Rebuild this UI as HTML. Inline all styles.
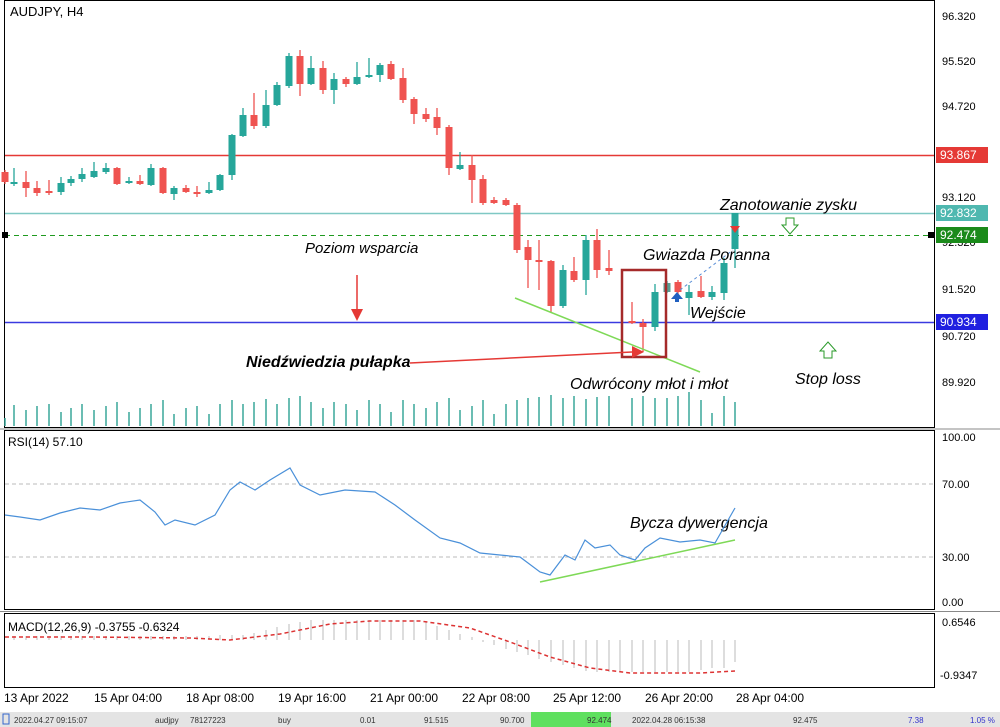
<!DOCTYPE html>
<html><head><meta charset="utf-8"><style>
body{margin:0;background:#fff;width:1000px;height:727px;overflow:hidden}
svg{display:block;font-family:"Liberation Sans",sans-serif}
</style></head><body>
<svg width="1000" height="727" viewBox="0 0 1000 727" xmlns="http://www.w3.org/2000/svg">
<rect width="1000" height="727" fill="#fff"/>
<rect x="4.5" y="0.5" width="930" height="427" fill="none" stroke="#000"/>
<rect x="4.5" y="430.5" width="930" height="179" fill="none" stroke="#000"/>
<rect x="4.5" y="613.5" width="930" height="74" fill="none" stroke="#000"/>
<line x1="0" y1="429" x2="1000" y2="429" stroke="#888"/>
<line x1="0" y1="611.5" x2="1000" y2="611.5" stroke="#888"/>
<text x="10" y="16" font-size="13">AUDJPY, H4</text>
<line x1="5" y1="155.5" x2="934" y2="155.5" stroke="#e53935" stroke-width="1.5"/>
<line x1="5" y1="213.5" x2="934" y2="213.5" stroke="#7fc8c4" stroke-width="1.5"/>
<line x1="5" y1="235.5" x2="934" y2="235.5" stroke="#1f9a1f" stroke-dasharray="5,4"/>
<line x1="5" y1="322.5" x2="934" y2="322.5" stroke="#3a3ae0" stroke-width="1.5"/>
<rect x="2" y="232" width="6" height="6" fill="#000"/><rect x="928" y="232" width="6" height="6" fill="#000"/>
<!-- volumes -->
<path stroke="#3aa79a" stroke-width="1.5" fill="none" d="M5 426V418M14 426V405M26 426V410M37 426V406M49 426V404M61 426V412M71 426V408M82 426V404M94 426V410M106 426V406M117 426V402M129 426V412M140 426V408M151 426V404M163 426V400M174 426V414M186 426V408M197 426V406M209 426V414M220 426V404M232 426V400M243 426V404M254 426V402M266 426V399M277 426V404M289 426V398M300 426V396M311 426V402M323 426V408M334 426V402M346 426V404M357 426V410M369 426V400M380 426V404M391 426V412M403 426V400M414 426V404M426 426V408M437 426V402M449 426V398M460 426V410M472 426V406M483 426V400M494 426V414M506 426V404M517 426V400M528 426V398M539 426V397M551 426V395M563 426V398M574 426V396M586 426V399M597 426V397M609 426V396M632 426V398M643 426V396M655 426V398M667 426V398M678 426V396M689 426V392M701 426V400M712 426V413M724 426V396M735 426V402"/>
<!-- green candles -->
<g fill="#26a69a" stroke="none">
<path stroke="#26a69a" stroke-width="1.3" d="M14 168V186M61 177V195M71 176V186M82 168V182M94 162V178M106 163V174M129 177V184M151 164V186M174 186V200M209 182V194M220 174V191M232 134V180M243 108V137M266 90V128M277 82V106M289 53V88M311 56V85M334 73V104M357 62V85M369 58V78M380 63V82M460 152V170M563 265V308M586 235V295M655 284V331M667 281V293M689 285V315M712 286V300M724 258V300M735 213V268"/>
<rect x="10.5" y="182" width="7" height="2"/><rect x="57.5" y="183" width="7" height="9"/><rect x="67.5" y="179" width="7" height="4"/><rect x="78.5" y="174" width="7" height="5"/><rect x="90.5" y="171" width="7" height="6"/><rect x="102.5" y="168" width="7" height="4"/><rect x="125.5" y="181" width="7" height="2"/><rect x="147.5" y="168" width="7" height="17"/><rect x="170.5" y="188" width="7" height="6"/><rect x="205.5" y="190" width="7" height="3"/><rect x="216.5" y="175" width="7" height="15"/><rect x="228.5" y="135" width="7" height="40"/><rect x="239.5" y="115" width="7" height="21"/><rect x="262.5" y="105" width="7" height="21"/><rect x="273.5" y="85" width="7" height="20"/><rect x="285.5" y="56" width="7" height="30"/><rect x="307.5" y="68" width="7" height="16"/><rect x="330.5" y="79" width="7" height="11"/><rect x="353.5" y="77" width="7" height="7"/><rect x="365.5" y="75" width="7" height="2"/><rect x="376.5" y="65" width="7" height="10"/><rect x="456.5" y="165" width="7" height="4"/><rect x="559.5" y="270" width="7" height="36"/><rect x="582.5" y="240" width="7" height="40"/><rect x="651.5" y="292" width="7" height="35"/><rect x="663.5" y="283" width="7" height="9" fill="#5a9a8f"/><rect x="685.5" y="292" width="7" height="6"/><rect x="708.5" y="292" width="7" height="5"/><rect x="720.5" y="263" width="7" height="30"/><rect x="731.5" y="213" width="7" height="36"/>
</g>
<!-- red candles -->
<g fill="#ef5350">
<path stroke="#ef5350" stroke-width="1.3" d="M5 170V184M26 171V197M37 181V196M49 180V195M117 167V185M140 175V185M163 167V194M186 185V193M197 186V197M254 93V129M300 50V96M323 61V94M346 77V87M391 61V80M403 68V103M414 97V124M426 108V122M437 108V135M449 125V175M472 155V203M483 175V205M494 197V204M506 198V206M517 203V253M528 240V288M539 240V290M551 260V312M574 257V282M597 229V278M609 250V275M632 302V324M643 319V352M678 280V294M701 276V298"/>
<rect x="1.5" y="172" width="7" height="10"/><rect x="22.5" y="182" width="7" height="6"/><rect x="33.5" y="188" width="7" height="5"/><rect x="45.5" y="191" width="7" height="2"/><rect x="113.5" y="168" width="7" height="16"/><rect x="136.5" y="181" width="7" height="3"/><rect x="159.5" y="168" width="7" height="25"/><rect x="182.5" y="188" width="7" height="4"/><rect x="193.5" y="192" width="7" height="2"/><rect x="250.5" y="115" width="7" height="11"/><rect x="296.5" y="56" width="7" height="28"/><rect x="319.5" y="68" width="7" height="22"/><rect x="342.5" y="79" width="7" height="5"/><rect x="387.5" y="64" width="7" height="15"/><rect x="399.5" y="78" width="7" height="22"/><rect x="410.5" y="99" width="7" height="15"/><rect x="422.5" y="114" width="7" height="5"/><rect x="433.5" y="117" width="7" height="11"/><rect x="445.5" y="127" width="7" height="41"/><rect x="468.5" y="165" width="7" height="15"/><rect x="479.5" y="179" width="7" height="24"/><rect x="490.5" y="200" width="7" height="3"/><rect x="502.5" y="200" width="7" height="5"/><rect x="513.5" y="205" width="7" height="45"/><rect x="524.5" y="247" width="7" height="13"/><rect x="535.5" y="260" width="7" height="2"/><rect x="547.5" y="261" width="7" height="45"/><rect x="570.5" y="271" width="7" height="9"/><rect x="593.5" y="240" width="7" height="30"/><rect x="605.5" y="268" width="7" height="3"/><rect x="628.5" y="321" width="7" height="2"/><rect x="639.5" y="323" width="7" height="4"/><rect x="674.5" y="282" width="7" height="10"/><rect x="697.5" y="291" width="7" height="6"/>
</g>
<!-- annotations -->
<line x1="515" y1="298" x2="700" y2="372" stroke="#7ed957" stroke-width="1.5"/>
<rect x="622" y="270" width="44" height="87" fill="none" stroke="#a52a2a" stroke-width="2.5"/>
<line x1="410" y1="363" x2="632" y2="352" stroke="#e53935" stroke-width="1.5"/>
<polygon points="632,346 644,352 632,358" fill="#e53935"/>
<line x1="357" y1="275" x2="357" y2="310" stroke="#e53935" stroke-width="1.5"/>
<polygon points="351,309 363,309 357,321" fill="#e53935"/>
<line x1="680" y1="290" x2="733" y2="250" stroke="#5b8fd6" stroke-dasharray="3,3"/>
<polygon points="677,292 683,299 671,299" fill="#2060c0"/><rect x="675" y="298" width="4" height="4" fill="#2060c0"/>
<polygon points="730,226 740,226 735,233" fill="#e53935"/>
<polygon points="786,218 794,218 794,225 798,225 790,234 782,225 786,225" fill="none" stroke="#2a9a2a"/>
<polygon points="824,358 832,358 832,351 836,351 828,342 820,351 824,351" fill="none" stroke="#2a9a2a"/>
<g font-style="italic" font-size="16" fill="#000">
<text x="305" y="253" font-size="15">Poziom wsparcia</text>
<text x="720" y="210">Zanotowanie zysku</text>
<text x="643" y="260">Gwiazda Poranna</text>
<text x="690" y="318">Wejście</text>
<text x="246" y="367" font-weight="bold">Niedźwiedzia pułapka</text>
<text x="570" y="389">Odwrócony młot i młot</text>
<text x="795" y="384">Stop loss</text>
<text x="630" y="528">Bycza dywergencja</text>
</g>
<g font-size="11" fill="#000">
<text x="942" y="20">96.320</text><text x="942" y="65">95.520</text><text x="942" y="110">94.720</text>
<text x="942" y="201">93.120</text><text x="942" y="246">92.320</text><text x="942" y="293">91.520</text>
<text x="942" y="340">90.720</text><text x="942" y="386">89.920</text>
</g>
<rect x="936" y="147" width="52" height="16" fill="#e53935"/><text x="940" y="159" font-size="12" fill="#fff">93.867</text>
<rect x="936" y="205" width="52" height="16" fill="#4fb8b0"/><text x="940" y="217" font-size="12" fill="#fff">92.832</text>
<rect x="936" y="227" width="52" height="16" fill="#1a8a1a"/><text x="940" y="239" font-size="12" fill="#fff">92.474</text>
<rect x="936" y="314" width="52" height="16" fill="#2020e0"/><text x="940" y="326" font-size="12" fill="#fff">90.934</text>
<!-- RSI -->
<text x="8" y="446" font-size="12">RSI(14) 57.10</text>
<line x1="5" y1="484" x2="934" y2="484" stroke="#bbb" stroke-dasharray="4,3"/>
<line x1="5" y1="557" x2="934" y2="557" stroke="#bbb" stroke-dasharray="4,3"/>
<polyline fill="none" stroke="#4a90d9" stroke-width="1.2" points="5,515 20,517 40,520 60,513 80,508 100,510 120,503 140,500 155,512 165,525 175,520 195,525 215,515 230,490 240,482 255,490 270,480 290,468 300,485 320,495 345,490 375,492 395,505 415,520 440,538 460,543 480,553 500,555 520,557 540,572 550,575 565,555 575,560 585,540 595,548 610,545 620,555 635,560 645,548 660,538 680,542 700,540 715,543 735,508"/>
<line x1="540" y1="582" x2="735" y2="540" stroke="#7ed957" stroke-width="1.5"/>
<g font-size="11"><text x="942" y="441">100.00</text><text x="942" y="488">70.00</text><text x="942" y="561">30.00</text><text x="942" y="606">0.00</text></g>
<!-- MACD histogram -->
<path stroke="#bbb" fill="none" d="M14 640V636M26 640V636M37 640V636M49 640V636M61 640V636M71 640V636M82 640V636M94 640V636M106 640V636M117 640V636M129 640V636M140 640V636M151 640V636M163 640V636M174 640V636M186 640V636M197 640V636M209 640V636M220 640V635M232 640V635M243 640V635M254 640V633M266 640V630M277 640V627M289 640V624M300 640V622M311 640V620M323 640V620M334 640V620M346 640V620M357 640V620M369 640V620M380 640V620M391 640V620M403 640V620M414 640V620M426 640V622M437 640V626M449 640V630M460 640V634M472 640V637M483 640V642M494 640V645M506 640V649M517 640V652M528 640V655M539 640V659M551 640V662M563 640V665M574 640V668M586 640V671M597 640V672M609 640V672M620 640V672M632 640V672M643 640V672M655 640V672M667 640V672M678 640V672M689 640V672M701 640V670M712 640V668M724 640V668M735 640V662"/>
<polyline fill="none" stroke="#d33" stroke-width="1.5" stroke-dasharray="4,3" points="5,637 90,637 190,638 230,640 280,634 330,624 370,621 420,621 470,628 510,642 550,657 590,668 630,673 700,673 735,671"/>
<text x="8" y="631" font-size="12">MACD(12,26,9) -0.3755 -0.6324</text>
<g font-size="11"><text x="942" y="626">0.6546</text><text x="940" y="679">-0.9347</text></g>
<g font-size="12" fill="#000">
<text x="4" y="702">13 Apr 2022</text><text x="94" y="702">15 Apr 04:00</text><text x="186" y="702">18 Apr 08:00</text>
<text x="278" y="702">19 Apr 16:00</text><text x="370" y="702">21 Apr 00:00</text><text x="462" y="702">22 Apr 08:00</text>
<text x="553" y="702">25 Apr 12:00</text><text x="645" y="702">26 Apr 20:00</text><text x="736" y="702">28 Apr 04:00</text>
</g>
<rect x="0" y="712" width="1000" height="15" fill="#e4e4e4"/>
<rect x="531" y="712" width="80" height="15" fill="#5fe05f"/>
<g font-size="8" fill="#333">
<text x="14" y="723">2022.04.27 09:15:07</text><text x="155" y="723">audjpy</text><text x="190" y="723">78127223</text>
<text x="278" y="723">buy</text><text x="360" y="723">0.01</text><text x="424" y="723">91.515</text>
<text x="500" y="723">90.700</text><text x="587" y="723">92.474</text><text x="632" y="723">2022.04.28 06:15:38</text>
<text x="793" y="723">92.475</text><text x="908" y="723" fill="#33c">7.38</text><text x="970" y="723" fill="#33c">1.05 %</text>
</g>
<rect x="3" y="714" width="6" height="10" fill="none" stroke="#36c"/>
</svg>
</body></html>
